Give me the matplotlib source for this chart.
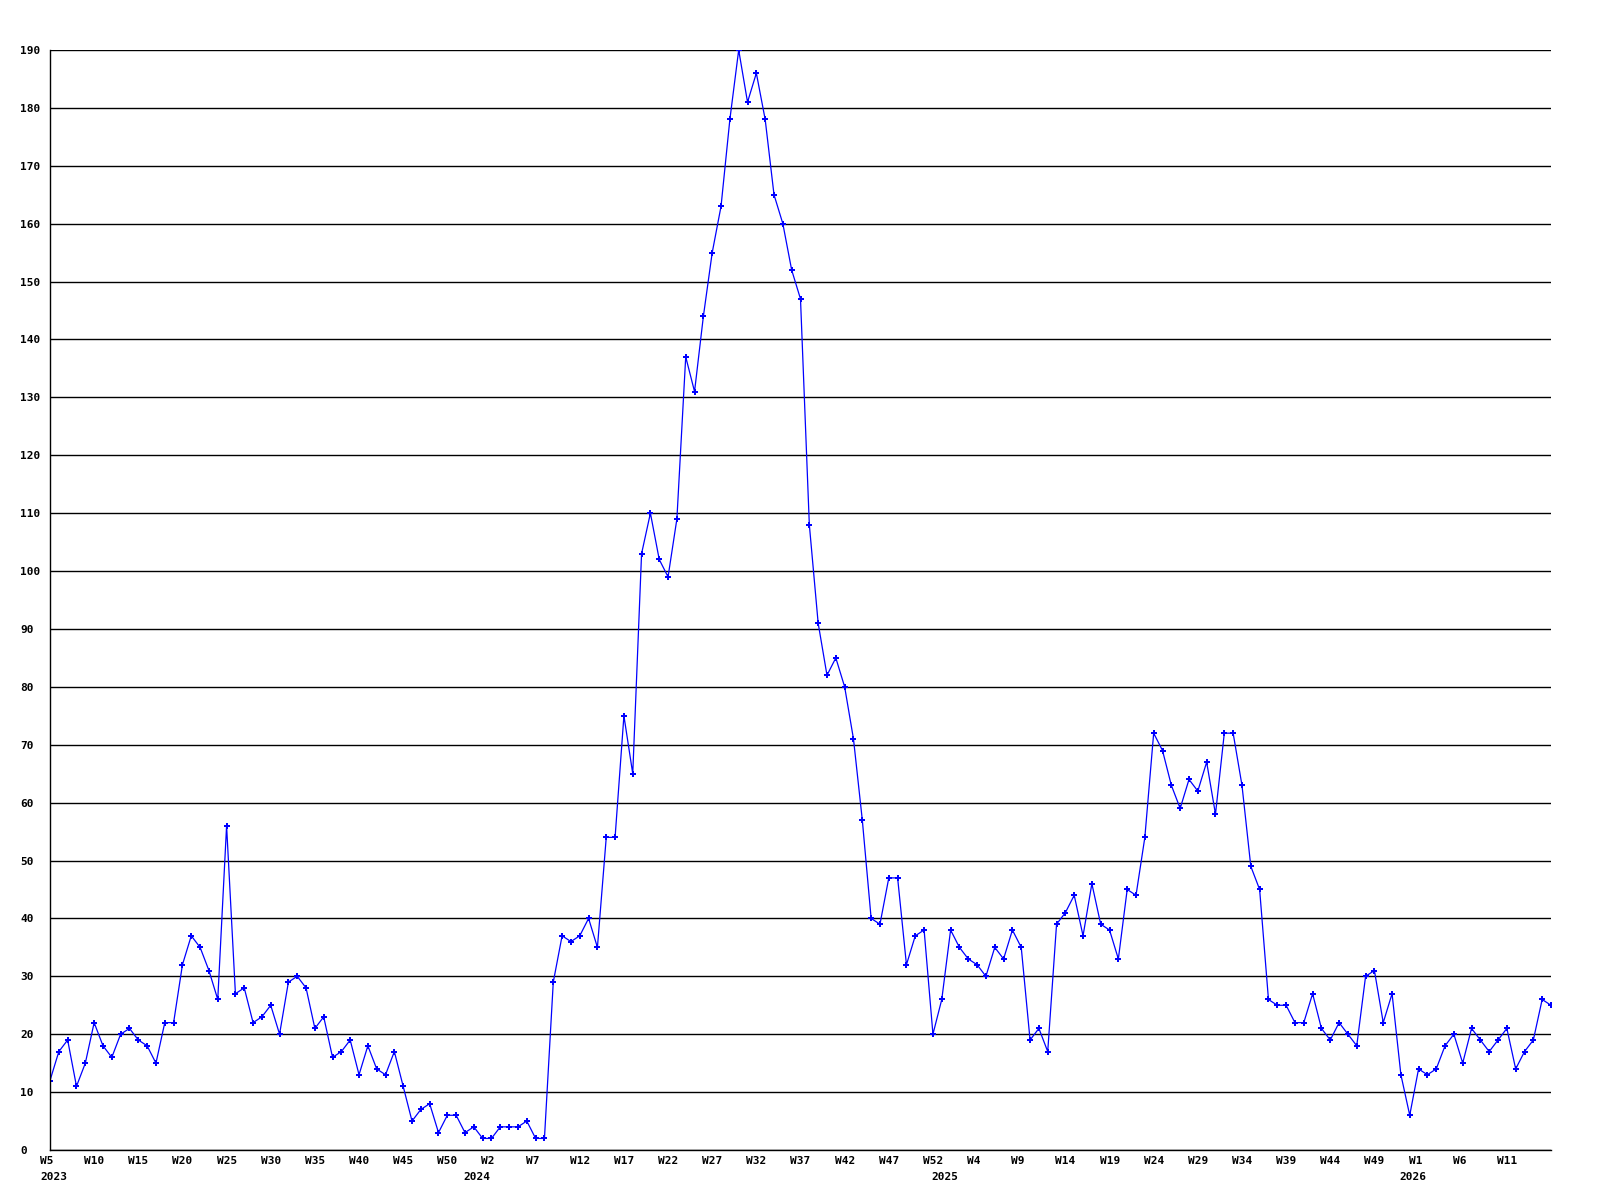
import matplotlib
matplotlib.use("Agg")
import matplotlib.pyplot as plt
import matplotlib.transforms as mtransforms

# weekly counts, first point is 2023 W5
counts = [12, 17, 19, 11, 15, 22, 18, 16, 20, 21,
          19, 18, 15, 22, 22, 32, 37, 35, 31, 26,
          56, 27, 28, 22, 23, 25, 20, 29, 30, 28,
          21, 23, 16, 17, 19, 13, 18, 14, 13, 17,
          11, 5, 7, 8, 3, 6, 6, 3, 4, 2,
          2, 4, 4, 4, 5, 2, 2, 29, 37, 36,
          37, 40, 35, 54, 54, 75, 65, 103, 110, 102,
          99, 109, 137, 131, 144, 155, 163, 178, 190, 181,
          186, 178, 165, 160, 152, 147, 108, 91, 82, 85,
          80, 71, 57, 40, 39, 47, 47, 32, 37, 38,
          20, 26, 38, 35, 33, 32, 30, 35, 33, 38,
          35, 19, 21, 17, 39, 41, 44, 37, 46, 39,
          38, 33, 45, 44, 54, 72, 69, 63, 59, 64,
          62, 67, 58, 72, 72, 63, 49, 45, 26, 25,
          25, 22, 22, 27, 21, 19, 22, 20, 18, 30,
          31, 22, 27, 13, 6, 14, 13, 14, 18, 20,
          15, 21, 19, 17, 19, 21, 14, 17, 19, 26,
          25]

# one label every 5 weeks
week_labels = ["W5", "W10", "W15", "W20", "W25", "W30", "W35", "W40", "W45", "W50",
               "W2", "W7", "W12", "W17", "W22", "W27", "W32", "W37", "W42", "W47", "W52",
               "W4", "W9", "W14", "W19", "W24", "W29", "W34", "W39", "W44", "W49",
               "W1", "W6", "W11"]
years = ["2023", "2024", "2025", "2026"]
year_start = [0, 48, 101, 154]  # index of first week of each year

fig = plt.figure(figsize=(16, 12), dpi=100)
ax = fig.add_axes([50 / 1600, 50 / 1200, 1501 / 1600, 1100 / 1200])

x = list(range(len(counts)))
ax.plot(x, counts, color="#0000ff", lw=0.9, marker="P", ms=4.5, mew=0)

ax.set_xlim(0, len(counts) - 1)
ax.set_ylim(0, 190)
ax.set_yticks(range(0, 191, 10))
ax.yaxis.grid(True, color="black", lw=1)
ax.set_axisbelow(True)

for s in ["top", "right"]:
    ax.spines[s].set_visible(False)
for s in ["left", "bottom"]:
    ax.spines[s].set_color("black")
    ax.spines[s].set_linewidth(1)

font = dict(family="DejaVu Sans Mono", weight="bold", size=8)

# week labels on major ticks, years on minor ticks one row lower
ax.xaxis.remove_overlapping_locs = False
ax.set_xticks(list(range(0, 5 * len(week_labels), 5)))
ax.set_xticklabels(week_labels, ha="left", **font)
ax.set_xticks(year_start, minor=True)
ax.set_xticklabels(years, minor=True, ha="left", **font)
ax.tick_params(axis="x", which="major", length=0, pad=4)
ax.tick_params(axis="x", which="minor", length=0, pad=16)

ax.set_yticklabels([str(v) for v in range(0, 191, 10)], ha="left", **font)
ax.tick_params(axis="y", length=0, pad=21.6)

# labels start a bit left of their point
shift = mtransforms.ScaledTranslation(-10 / 100, 0, fig.dpi_scale_trans)
for lbl in ax.get_xticklabels(which="both"):
    lbl.set_transform(lbl.get_transform() + shift)

fig.savefig("out.png", dpi=100, facecolor="white")
